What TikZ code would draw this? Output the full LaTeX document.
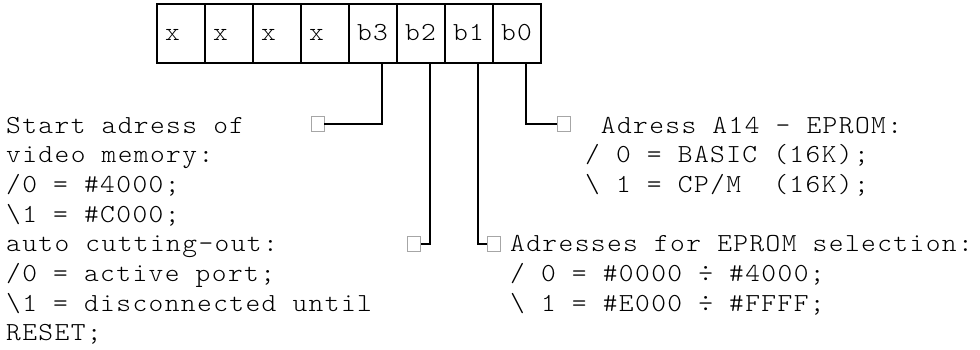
\documentclass[tikz,border=0pt]{standalone}
\usepackage{fontspec}
\newfontfamily\artfont{lmmonolt10-regular.otf}[FakeStretch=1.08,LetterSpace=5.4]

\begin{document}
\begin{tikzpicture}[x=1pt,y=-1pt,
    every node/.style={font=\artfont\fontsize{26}{29.7}\selectfont},
    cell/.style={draw,line width=2.2pt,minimum width=48pt,minimum height=59pt,
        text width=32pt,align=left,inner xsep=8pt,inner ysep=0pt,
        text height=15pt,text depth=0pt},
    tickbox/.style={draw=gray!70,fill=white,line width=0.8pt,inner sep=0pt,
        minimum width=13pt,minimum height=15pt},
    wire/.style={line width=2pt}]
        \useasboundingbox (0,0) rectangle (980,350);
        % register bits
        \foreach \t [count=\i] in {x,x,x,x,b3,b2,b1,b0}
            \node[cell] (c\i) at (133+48*\i, 33.5) {\t};
        \node[tickbox] (m3) at (317.5, 124) {};
        \node[tickbox] (m2) at (414, 244) {};
        \node[tickbox] (m1) at (493.5, 244) {};
        \node[tickbox] (m0) at (564, 124) {};
        \draw[wire] ([xshift=9pt]c5.south) |- (m3.east);
        \draw[wire] ([xshift=9pt]c6.south) |- (m2.east);
        \draw[wire] ([xshift=9pt]c7.south) |- (m1.west);
        \draw[wire] ([xshift=9pt]c8.south) |- (m0.west);
        % descriptions (base = last line)
        \node[anchor=base west,align=left,inner sep=0pt] (vidtext) at (6, 222.1)
            {Start adress of\\video memory:\\/0 = \#4000;\\\textbackslash 1 = \#C000;};
        \node[anchor=base west,align=left,inner sep=0pt] (cuttext) at (6, 340.9)
            {auto cutting-out:\\/0 = active port;\\\textbackslash 1 = disconnected until\\RESET;};
        \node[anchor=base west,align=left,inner sep=0pt] (romtext) at (585, 192.4)
            {\hspace*{15.7pt}Adress A14 - EPROM:\\/ 0 = BASIC (16K);\\\textbackslash{} 1 = CP/M\ \ (16K);};
        \node[anchor=base west,align=left,inner sep=0pt] (seltext) at (510, 311.2)
            {Adresses for EPROM selection:\\/ 0 = \#0000 ÷ \#4000;\\\textbackslash{} 1 = \#E000 ÷ \#FFFF;};
    \end{tikzpicture}
\end{document}
